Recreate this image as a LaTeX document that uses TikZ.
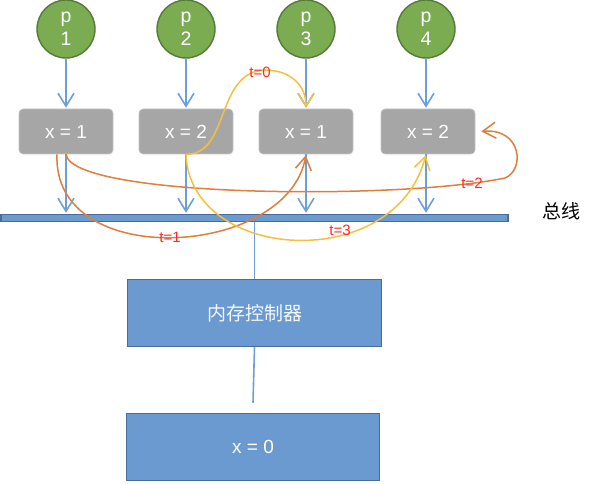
\documentclass[tikz,border=0pt]{standalone}
\usepackage{fontspec}
\setmainfont{Liberation Sans}
\newfontfamily\cjk{Noto Sans CJK SC}
\usetikzlibrary{arrows.meta}
\definecolor{procgreen}{HTML}{7BAC52}
\definecolor{procedge}{HTML}{56793A}
\definecolor{cachegray}{HTML}{A6A6A6}
\definecolor{cacheedge}{HTML}{C4C4C4}
\definecolor{unitblue}{HTML}{6A9AD0}
\definecolor{unitedge}{HTML}{4A6C98}
\definecolor{wireblue}{HTML}{6C9FDA}
\definecolor{curveyellow}{HTML}{F5C040}
\definecolor{curveorange}{HTML}{E07E3E}
\definecolor{tred}{HTML}{FF2B1C}

\begin{document}
\begin{tikzpicture}[x=1pt, y=-1pt, line width=1.5pt,
        proc/.style={circle, minimum size=58pt, inner sep=0pt, fill=procgreen, draw=procedge, line width=1.4pt,
            text=white, align=center, font=\fontsize{19.5}{23}\selectfont},
        cache/.style={rounded corners=4pt, minimum width=94pt, minimum height=45pt, fill=cachegray, draw=cacheedge,
            line width=0.6pt, text=white, font=\fontsize{19}{22}\selectfont},
        hwbox/.style={draw=unitedge, fill=unitblue, line width=1.5pt, minimum height=67pt, text=white,
            font=\fontsize{19}{22}\selectfont},
        wire/.style={draw=wireblue, line width=1.6pt},
        barb/.style={-{Straight Barb[length=13pt, width=16pt]}, shorten >=1pt},
        tlabel/.style={text=tred, inner sep=0pt, font=\fontsize{15}{17}\selectfont}]
        \useasboundingbox (0, 0) rectangle (598, 484);

        \node[proc] (p1) at (66, 29) {p\\1};
        \node[proc] (p2) at (186, 29) {p\\2};
        \node[proc] (p3) at (306, 29) {p\\3};
        \node[proc] (p4) at (426, 29) {p\\4};

        \node[cache] (c1) at (66, 131.5) {x = 1};
        \node[cache] (c2) at (186, 131.5) {x = 2};
        \node[cache] (c3) at (306, 131.5) {x = 1};
        \node[cache] (c4) at (428, 131.5) {x = 2};

        \node[draw=unitedge, fill=unitblue, line width=1.5pt, minimum width=507pt, minimum height=7pt, inner sep=0pt]
            (bus) at (254.5, 218) {};
        \node[font=\cjk\fontsize{19}{22}\selectfont] (buslabel) at (561, 211) {总线};

        \node[hwbox, minimum width=254pt, font=\cjk\fontsize{19}{22}\selectfont, text=white!92!unitblue]
            (ctrl) at (254.5, 313) {内存控制器};
        \node[hwbox, minimum width=253pt] (mem) at (253, 447) {x = 0};

        % processors to caches, caches to bus
        \draw[wire, barb] (p1) -- (c1);
        \draw[wire, barb] (p2) -- (c2);
        \draw[wire, barb] (p3) -- (c3);
        \draw[wire, barb] (p4) -- ([xshift=-2pt]c4.north);
        \draw[wire, barb] (c1) -- (c1 |- bus.north);
        \draw[wire, barb] (c2) -- (c2 |- bus.north);
        \draw[wire, barb] (c3) -- (c3 |- bus.north);
        \draw[wire, barb] ([xshift=-2pt]c4.south) -- ([xshift=-2pt]c4.south |- bus.north);
        \draw[wire] (ctrl.north) -- (ctrl.north |- bus.south);
        \draw[wire] (ctrl.south) -- ([yshift=10pt]mem.north);

        % t=0 .. t=3
        \draw[curveyellow, barb] (c2.south) .. controls (230, 155) and (215, 72) .. (265, 70)
            .. controls (290, 70) and (306, 85) .. (c3.north);
        \draw[curveorange, barb] ([xshift=-9pt]c1.south) .. controls (52, 272) and (288, 258) .. (c3.south);
        \draw[curveorange, barb] (c1.south) .. controls (72, 198) and (400, 200) .. (505, 178)
            .. controls (525, 170) and (522, 128) .. ([xshift=5pt]c4.east);
        \draw[curveyellow, barb] (c2.south) .. controls (190, 262) and (395, 275) .. ([xshift=-2pt]c4.south);

        \node[tlabel] (t0) at (260, 72) {t=0};
        \node[tlabel] (t1) at (170, 237) {t=1};
        \node[tlabel] (t2) at (472, 183) {t=2};
        \node[tlabel] (t3) at (340, 230) {t=3};
    \end{tikzpicture}
\end{document}
